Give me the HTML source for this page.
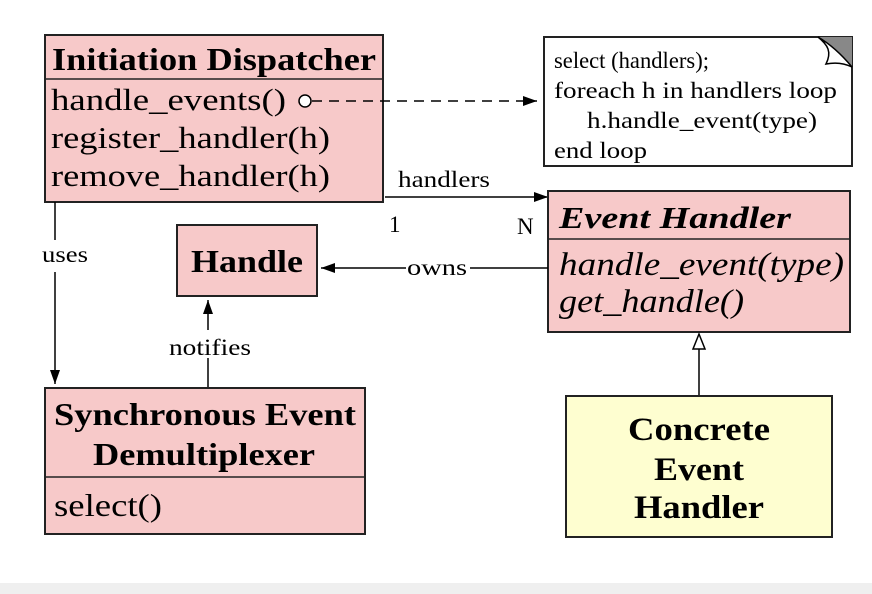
<!DOCTYPE html>
<html><head><meta charset="utf-8"><style>
html,body{margin:0;padding:0;background:#fff;width:872px;height:594px;overflow:hidden}
svg{display:block}
text{font-family:"Liberation Serif",serif;fill:#000}
</style></head><body>
<svg width="872" height="594" viewBox="0 0 872 594">
<defs>
<marker id="ah" markerWidth="14" markerHeight="10" refX="14" refY="5" orient="auto" markerUnits="userSpaceOnUse"><path d="M0,0 L14,5 L0,10 Z" fill="#000"/></marker>
</defs>
<rect x="0" y="583" width="872" height="11" fill="#efefef"/>

<g>
<rect x="45" y="35" width="338" height="167" fill="#f7c9c9" stroke="#222" stroke-width="2"/>
<line x1="45" y1="79" x2="383" y2="79" stroke="#222" stroke-width="1.5"/>
<text x="52" y="70" font-size="32" font-weight="bold" textLength="324" lengthAdjust="spacingAndGlyphs">Initiation Dispatcher</text>
<text x="51" y="110" font-size="31" textLength="235" lengthAdjust="spacingAndGlyphs">handle_events()</text>
<text x="51" y="148" font-size="31" textLength="279" lengthAdjust="spacingAndGlyphs">register_handler(h)</text>
<text x="51" y="186" font-size="31" textLength="279" lengthAdjust="spacingAndGlyphs">remove_handler(h)</text>
</g>
<circle cx="305" cy="101" r="6" fill="#fff" stroke="#000" stroke-width="1.5"/>
<line x1="312" y1="101" x2="537" y2="101" stroke="#000" stroke-width="1.5" stroke-dasharray="10,7" marker-end="url(#ah)"/>

<g>
<path d="M544,37 L852,37 L852,166 L544,166 Z" fill="#fff" stroke="#222" stroke-width="2"/>
<path d="M818,37 L852,37 L852,67 Z" fill="#888"/>
<path d="M818,37 C828,45 832,52 826,64 C836,62 844,63 852,67 C842,55 830,44 818,37 Z" fill="#fff" stroke="#000" stroke-width="1.5"/>
<text x="554" y="68" font-size="23" textLength="155" lengthAdjust="spacingAndGlyphs">select (handlers);</text>
<text x="554" y="98" font-size="23" textLength="283" lengthAdjust="spacingAndGlyphs">foreach h in handlers loop</text>
<text x="587" y="128" font-size="23" textLength="230" lengthAdjust="spacingAndGlyphs">h.handle_event(type)</text>
<text x="554" y="158" font-size="23" textLength="93" lengthAdjust="spacingAndGlyphs">end loop</text>
</g>

<line x1="385" y1="197" x2="548" y2="197" stroke="#000" stroke-width="1.5" marker-end="url(#ah)"/>
<text x="398" y="187" font-size="23" textLength="92" lengthAdjust="spacingAndGlyphs">handlers</text>
<text x="389" y="232" font-size="23">1</text>
<text x="517" y="234" font-size="23">N</text>

<g>
<rect x="548" y="191" width="302" height="141" fill="#f7c9c9" stroke="#222" stroke-width="2"/>
<line x1="548" y1="239" x2="850" y2="239" stroke="#222" stroke-width="1.5"/>
<text x="559" y="228" font-size="31" font-weight="bold" font-style="italic" textLength="232" lengthAdjust="spacingAndGlyphs">Event  Handler</text>
<text x="559" y="275" font-size="33" font-style="italic" textLength="285" lengthAdjust="spacingAndGlyphs">handle_event(type)</text>
<text x="559" y="312" font-size="33" font-style="italic" textLength="185" lengthAdjust="spacingAndGlyphs">get_handle()</text>
</g>

<g>
<rect x="177" y="225" width="140" height="71" fill="#f7c9c9" stroke="#222" stroke-width="2"/>
<text x="247" y="272" font-size="32" font-weight="bold" text-anchor="middle" textLength="112" lengthAdjust="spacingAndGlyphs">Handle</text>
</g>
<line x1="548" y1="268" x2="470" y2="268" stroke="#000" stroke-width="1.5"/>
<line x1="406" y1="268" x2="321" y2="268" stroke="#000" stroke-width="1.5" marker-end="url(#ah)"/>
<text x="437" y="275" font-size="23" text-anchor="middle" textLength="60" lengthAdjust="spacingAndGlyphs">owns</text>

<line x1="55" y1="202" x2="55" y2="240" stroke="#000" stroke-width="1.5"/>
<line x1="55" y1="272" x2="55" y2="384" stroke="#000" stroke-width="1.5" marker-end="url(#ah)"/>
<text x="42" y="262" font-size="23" textLength="46" lengthAdjust="spacingAndGlyphs">uses</text>

<line x1="208" y1="388" x2="208" y2="358" stroke="#000" stroke-width="1.5"/>
<line x1="208" y1="330" x2="208" y2="300" stroke="#000" stroke-width="1.5" marker-end="url(#ah)"/>
<text x="210" y="355" font-size="23" text-anchor="middle" textLength="82" lengthAdjust="spacingAndGlyphs">notifies</text>

<g>
<rect x="45" y="388" width="320" height="146" fill="#f7c9c9" stroke="#222" stroke-width="2"/>
<line x1="45" y1="477" x2="365" y2="477" stroke="#222" stroke-width="1.5"/>
<text x="205" y="425" font-size="32" font-weight="bold" text-anchor="middle" textLength="302" lengthAdjust="spacingAndGlyphs">Synchronous Event</text>
<text x="204" y="465" font-size="32" font-weight="bold" text-anchor="middle" textLength="222" lengthAdjust="spacingAndGlyphs">Demultiplexer</text>
<text x="54" y="516" font-size="32" textLength="108" lengthAdjust="spacingAndGlyphs">select()</text>
</g>

<line x1="699" y1="396" x2="699" y2="349" stroke="#000" stroke-width="1.5"/>
<path d="M699,334 L705,349 L693,349 Z" fill="#fff" stroke="#000" stroke-width="1.5"/>

<g>
<rect x="566" y="396" width="266" height="141" fill="#fefed0" stroke="#222" stroke-width="2"/>
<text x="699" y="440" font-size="33" font-weight="bold" text-anchor="middle" textLength="142" lengthAdjust="spacingAndGlyphs">Concrete</text>
<text x="699" y="480" font-size="33" font-weight="bold" text-anchor="middle" textLength="90" lengthAdjust="spacingAndGlyphs">Event</text>
<text x="699" y="518" font-size="33" font-weight="bold" text-anchor="middle" textLength="130" lengthAdjust="spacingAndGlyphs">Handler</text>
</g>
</svg>
</body></html>
